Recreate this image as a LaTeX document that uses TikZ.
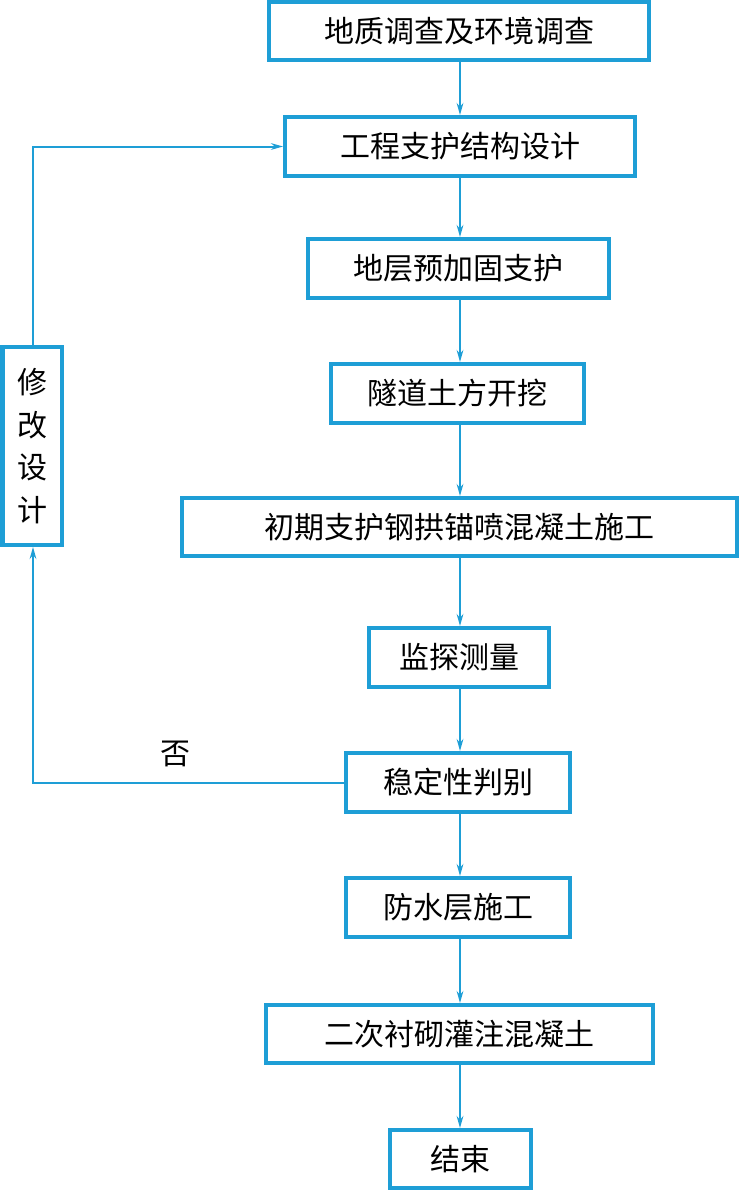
\documentclass[tikz,border=0pt]{standalone}
\usepackage{fontspec}
\newfontfamily\cjk{Noto Sans CJK SC}
\usetikzlibrary{arrows.meta}
\definecolor{flowblue}{RGB}{30,158,214}

\begin{document}
\begin{tikzpicture}[x=0.75pt,y=-0.75pt]
\tikzset{
  stepbox/.style={rectangle,draw=flowblue,line width=3pt,inner sep=0pt,font=\cjk\fontsize{22.5}{32}\selectfont,text=black},
  flow/.style={-{Stealth[length=9pt,width=5pt]},draw=flowblue,line width=1.5pt}
}
\useasboundingbox (0,0) rectangle (741,1192);
\node[stepbox,minimum width=380*0.75pt,minimum height=58*0.75pt] (n_survey) at (459,31) {地质调查及环境调查};
\node[stepbox,minimum width=350*0.75pt,minimum height=59*0.75pt] (n_design) at (460,146.5) {工程支护结构设计};
\node[stepbox,minimum width=301*0.75pt,minimum height=59*0.75pt] (n_reinf) at (458.5,268.5) {地层预加固支护};
\node[stepbox,minimum width=253*0.75pt,minimum height=59*0.75pt] (n_excav) at (457.5,393.5) {隧道土方开挖};
\node[stepbox,minimum width=555*0.75pt,minimum height=58*0.75pt] (n_lining) at (459.5,527) {初期支护钢拱锚喷混凝土施工};
\node[stepbox,minimum width=180*0.75pt,minimum height=59*0.75pt] (n_monitor) at (459,657.5) {监探测量};
\node[stepbox,minimum width=224*0.75pt,minimum height=59*0.75pt] (n_judge) at (458,782.5) {稳定性判别};
\node[stepbox,minimum width=224*0.75pt,minimum height=59*0.75pt] (n_water) at (458,907.5) {防水层施工};
\node[stepbox,minimum width=387*0.75pt,minimum height=58*0.75pt] (n_second) at (459.5,1034) {二次衬砌灌注混凝土};
\node[stepbox,minimum width=141*0.75pt,minimum height=58*0.75pt] (n_end) at (460.5,1159) {结束};
\node[stepbox,minimum width=59*0.75pt,minimum height=198*0.75pt,align=center] (n_modify) at (32,446) {修\\改\\设\\计};
\node[font=\cjk\fontsize{22.5}{26}\selectfont] (n_no) at (175,754) {否};
% main line runs down at x=460
\coordinate (c_axis) at (460,0);
\draw[flow] (c_axis |- n_survey.south) -- (c_axis |- n_design.north);
\draw[flow] (c_axis |- n_design.south) -- (c_axis |- n_reinf.north);
\draw[flow] (c_axis |- n_reinf.south) -- (c_axis |- n_excav.north);
\draw[flow] (c_axis |- n_excav.south) -- (c_axis |- n_lining.north);
\draw[flow] (c_axis |- n_lining.south) -- (c_axis |- n_monitor.north);
\draw[flow] (c_axis |- n_monitor.south) -- (c_axis |- n_judge.north);
\draw[flow] (c_axis |- n_judge.south) -- (c_axis |- n_water.north);
\draw[flow] (c_axis |- n_water.south) -- (c_axis |- n_second.north);
\draw[flow] (c_axis |- n_second.south) -- (c_axis |- n_end.north);
% feedback loop
\coordinate (c_low) at (33,782.5);
\coordinate (c_high) at (33,146.5);
\draw[flow] (n_judge.west) -- (c_low) -- (c_low |- n_modify.south);
\draw[flow] (c_high |- n_modify.north) -- (c_high) -- (n_design.west);
\end{tikzpicture}
\end{document}
